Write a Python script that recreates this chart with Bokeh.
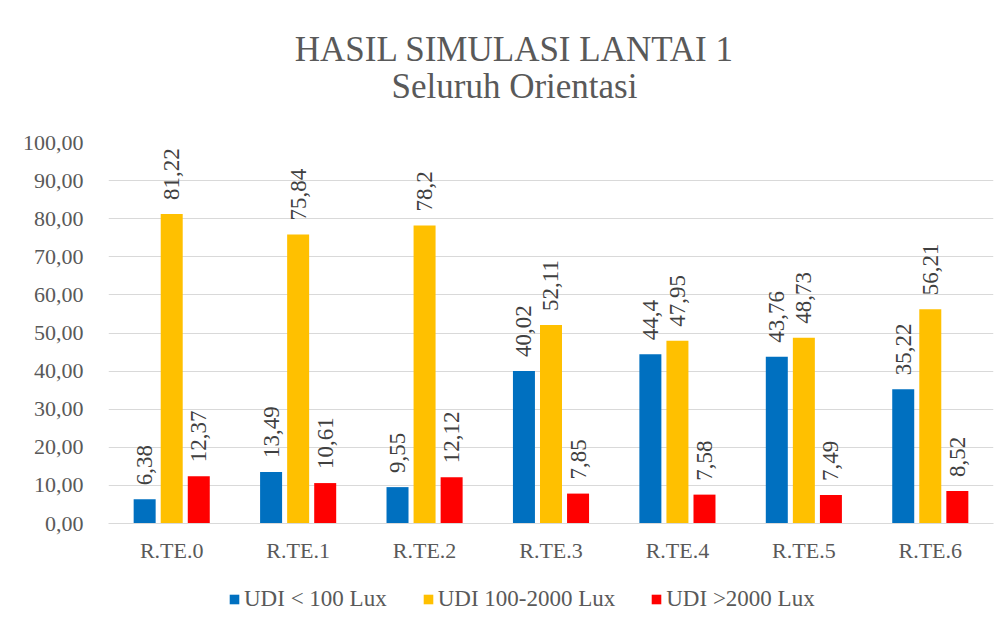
import math
from bokeh.plotting import figure
from bokeh.layouts import column
from bokeh.models import (ColumnDataSource, FactorRange, Range1d, LabelSet, Label,
                          Legend, LegendItem, FixedTicker, CustomJSTickFormatter)
from bokeh.transform import dodge
from bokeh.embed import file_html
from bokeh.resources import INLINE

categories = ["R.TE.0", "R.TE.1", "R.TE.2", "R.TE.3", "R.TE.4", "R.TE.5", "R.TE.6"]
udi_low = [6.38, 13.49, 9.55, 40.02, 44.4, 43.76, 35.22]
udi_mid = [81.22, 75.84, 78.2, 52.11, 47.95, 48.73, 56.21]
udi_high = [12.37, 10.61, 12.12, 7.85, 7.58, 7.49, 8.52]
series_names = ["UDI < 100 Lux", "UDI 100-2000 Lux", "UDI >2000 Lux"]
series_colors = ["#0070C0", "#FFC000", "#FF0000"]
y_ticks = [0, 10, 20, 30, 40, 50, 60, 70, 80, 90, 100]
title_text = "HASIL SIMULASI LANTAI 1"
subtitle_text = "Seluruh Orientasi"

FONT = "'Liberation Serif'"   # axes / legend
LFONT = "serif"               # Label / LabelSet
TXT = "#595959"
W = 1000
H_TOP, H_MAIN, H_LEG = 130, 445, 44
FRAME_L, FRAME_R = 108, 993


def fmt(v):
    return str(v).replace(".", ",")


def blank_fig(h):
    f = figure(width=W, height=h, x_range=Range1d(FRAME_L, FRAME_R), y_range=Range1d(0, h),
               output_backend="svg", toolbar_location=None,
               x_axis_location=None, y_axis_location=None,
               min_border=0, min_border_left=0, min_border_right=0,
               min_border_top=0, min_border_bottom=0)
    f.outline_line_color = None
    f.xgrid.visible = False
    f.ygrid.visible = False
    f.background_fill_color = "white"
    f.border_fill_color = "white"
    return f


src = ColumnDataSource(dict(
    cat=categories,
    low=udi_low, mid=udi_mid, high=udi_high,
    low_t=[fmt(v) for v in udi_low],
    mid_t=[fmt(v) for v in udi_mid],
    high_t=[fmt(v) for v in udi_high],
))

# ---- title strip ----
top = blank_fig(H_TOP)
top.add_layout(Label(x=514, y=H_TOP - 49, text=title_text, text_align="center",
                     text_baseline="middle", text_font=LFONT, text_font_size="35px",
                     text_color=TXT))
top.add_layout(Label(x=514, y=H_TOP - 86, text=subtitle_text, text_align="center",
                     text_baseline="middle", text_font=LFONT, text_font_size="35px",
                     text_color=TXT))

# ---- main chart ----
p = figure(x_range=FactorRange(*categories, range_padding=0), y_range=Range1d(0, 100),
           width=W, height=H_MAIN, output_backend="svg", toolbar_location=None,
           min_border_left=FRAME_L, min_border_right=W - FRAME_R, min_border_top=12,
           min_border_bottom=52)
p.outline_line_color = None
p.background_fill_color = "white"
p.border_fill_color = "white"

off = 0.214
bw = 0.174
fields = ["low", "mid", "high"]
offsets = [-off, 0, off]
for f, o, c in zip(fields, offsets, series_colors):
    p.vbar(x=dodge("cat", o, range=p.x_range), top=f, width=bw, source=src,
           fill_color=c, line_color=None)
    p.add_layout(LabelSet(x=dodge("cat", o, range=p.x_range), y=f, text=f + "_t", source=src,
                          angle=math.pi / 2, text_align="left", text_baseline="middle",
                          y_offset=14, text_font=LFONT, text_font_size="23px",
                          text_color="#404040"))

p.yaxis.ticker = FixedTicker(ticks=y_ticks)
p.yaxis.formatter = CustomJSTickFormatter(code="return tick.toFixed(2).replace('.', ',');")
p.yaxis.axis_line_color = None
p.yaxis.major_tick_line_color = None
p.yaxis.minor_tick_line_color = None
p.yaxis.major_label_standoff = 19
p.yaxis.major_label_text_font = FONT
p.yaxis.major_label_text_font_size = "22px"
p.yaxis.major_label_text_color = TXT

p.xaxis.axis_line_color = "#D9D9D9"
p.xaxis.major_tick_line_color = None
p.xaxis.minor_tick_line_color = None
p.xaxis.major_label_standoff = 8
p.xaxis.major_label_text_font = FONT
p.xaxis.major_label_text_font_size = "22px"
p.xaxis.major_label_text_color = TXT

p.xgrid.grid_line_color = None
p.ygrid.grid_line_color = "#D9D9D9"
p.ygrid.grid_line_width = 1

# ---- legend strip (swatch-only renderers hold a single NaN, so nothing is drawn) ----
leg = blank_fig(H_LEG)
leg_src = ColumnDataSource(dict(x=[float("nan")], top=[float("nan")]))
leg_renderers = [leg.vbar(x="x", top="top", width=1, source=leg_src,
                          fill_color=c, line_color=None) for c in series_colors]
legend = Legend(items=[LegendItem(label=n, renderers=[r]) for n, r in zip(series_names, leg_renderers)],
                orientation="horizontal", location=(228 - FRAME_L, 7),
                label_text_font=FONT, label_text_font_size="23px", label_text_color=TXT,
                glyph_width=12, glyph_height=12, label_standoff=4, spacing=35,
                padding=0, margin=0, border_line_color=None, background_fill_alpha=0)
leg.add_layout(legend, "center")

layout = column(top, p, leg, spacing=0)
open("out.html", "w").write(file_html(layout, INLINE))
